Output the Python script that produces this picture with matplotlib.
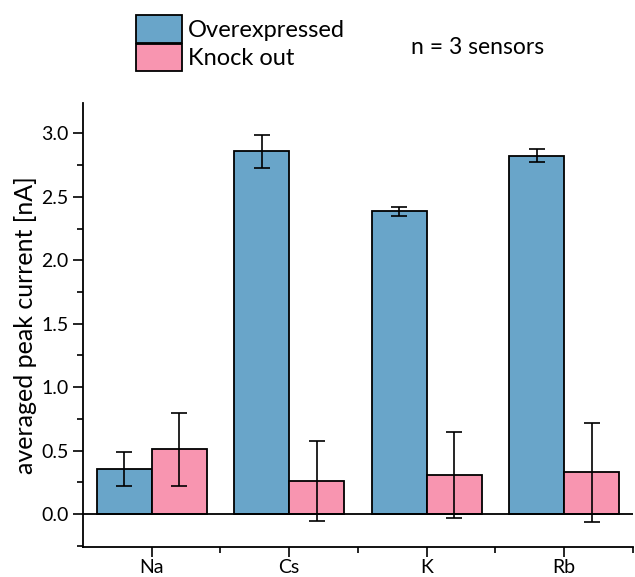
import numpy as np
import matplotlib
matplotlib.use("Agg")
import matplotlib.pyplot as plt
from matplotlib.patches import Patch
from matplotlib.ticker import MultipleLocator, FixedLocator, FormatStrFormatter

plt.rcParams['font.family'] = ['Lato', 'DejaVu Sans']

ions = ['Na', 'Cs', 'K', 'Rb']
over_mean = [0.355, 2.86, 2.386, 2.825]
over_err = [0.135, 0.13, 0.035, 0.05]
ko_mean = [0.51, 0.26, 0.31, 0.33]
ko_err = [0.29, 0.315, 0.34, 0.39]

blue = '#69A5C9'
pink = '#F895B0'

fig = plt.figure(figsize=(6.35, 5.77), dpi=100)
ax = fig.add_axes([0.1307, 0.052, 0.866, 0.7695])

x = np.arange(len(ions))
w = 0.4
ekw = dict(ecolor='black', elinewidth=1.2, capsize=6, capthick=1.2)
ax.bar(x - w / 2, over_mean, w, color=blue, edgecolor='black', linewidth=1.3,
       yerr=over_err, error_kw=ekw, zorder=2)
ax.bar(x + w / 2, ko_mean, w, color=pink, edgecolor='black', linewidth=1.3,
       yerr=ko_err, error_kw=ekw, zorder=2)
ax.axhline(0, color='black', lw=1.3, zorder=3)

ax.set_xlim(-0.5, 3.5)
ax.set_ylim(-0.26, 3.24)
ax.set_xticks(x)
ax.set_xticklabels(ions, fontsize=15)
ax.xaxis.set_minor_locator(FixedLocator([0.5, 1.5, 2.5, 3.5]))
ax.yaxis.set_major_locator(MultipleLocator(0.5))
ax.yaxis.set_minor_locator(MultipleLocator(0.25))
ax.yaxis.set_major_formatter(FormatStrFormatter('%.1f'))
ax.tick_params(which='major', length=7, width=1.2, labelsize=14, color='black')
ax.tick_params(axis='x', which='major', pad=2)
ax.tick_params(which='minor', length=4, width=1.2)
for s in ['top', 'right']:
    ax.spines[s].set_visible(False)
for s in ['left', 'bottom']:
    ax.spines[s].set_linewidth(1.3)
ax.set_ylabel('averaged peak current [nA]', fontsize=18, labelpad=3)

handles = [Patch(facecolor=blue, edgecolor='black', linewidth=1.3, label='Overexpressed'),
           Patch(facecolor=pink, edgecolor='black', linewidth=1.3, label='Knock out')]
fig.legend(handles=handles, loc='upper left', bbox_to_anchor=(0.214, 0.974),
           frameon=False, fontsize=17, handlelength=1.95, handleheight=1.42,
           labelspacing=0.04, handletextpad=0.25, borderpad=0, borderaxespad=0)
fig.text(0.647, 0.917, 'n = 3 sensors', fontsize=16.5, va='center', ha='left')

fig.savefig('out.png', dpi=100)
